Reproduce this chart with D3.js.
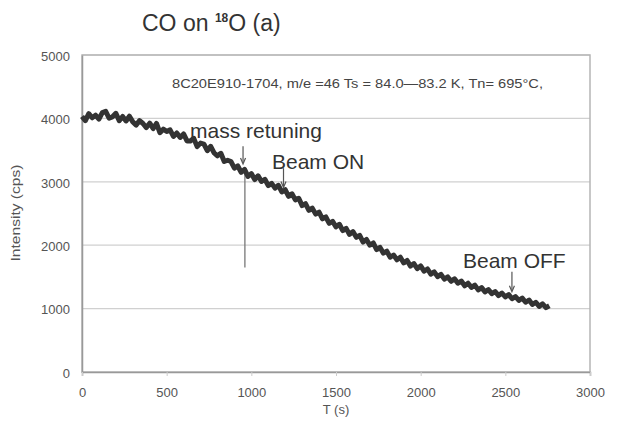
<!DOCTYPE html>
<html><head><meta charset="utf-8">
<script src="https://cdn.jsdelivr.net/npm/d3@7/dist/d3.min.js"></script>
<style>html,body{margin:0;padding:0;background:#fff;}svg{display:block;font-family:"Liberation Sans",Arial,sans-serif;}</style>
</head><body><svg id="c" width="617" height="424"></svg>
<script>
// ---- data ----
const times = d3.range(0, 2761, 20); // sampling times (s)
const intensity = [
4030,3965,4075,4010,4050,3990,4090,4110,4005,4025,
4080,3965,4030,3960,4035,3945,3895,3965,3920,3855,
3925,3840,3920,3775,3830,3795,3820,3715,3770,3700,
3755,3645,3645,3685,3555,3610,3595,3490,3560,3455,
3410,3450,3320,3340,3320,3215,3250,3150,3195,3085,
3130,3035,3095,3005,3040,2940,2975,2900,2945,2840,
2875,2770,2810,2715,2740,2625,2655,2550,2585,2490,
2520,2415,2445,2345,2375,2290,2330,2230,2265,2170,
2215,2125,2155,2050,2090,2000,2035,1930,1965,1875,
1905,1810,1845,1770,1810,1720,1760,1670,1710,1630,
1675,1590,1625,1545,1580,1505,1540,1465,1500,1430,
1470,1400,1435,1360,1400,1335,1370,1295,1330,1265,
1300,1235,1270,1205,1245,1185,1220,1155,1190,1130,
1165,1100,1135,1065,1100,1035,1075,1015,1045
];
const spikeT = 962, spikeTop = 3150, spikeBottom = 1650;
const xTicks = [0,500,1000,1500,2000,2500,3000];
const yTicks = [0,1000,2000,3000,4000,5000];
const annLabels = ["mass retuning","Beam ON","Beam OFF"];
const annArrowT = [951,1190,2539];
const annArrowTop = [3560,3215,1580];
const annArrowBottom = [3280,2910,1265];
const annTextT = [638,1122,2250];
const annTextV = [3690,3200,1640];
const title = "CO on ";
const infoText = "8C20E910-1704, m/e =46 Ts = 84.0\u201483.2 K, Tn= 695\u00b0C,";

// ---- layout ----
const svg = d3.select("#c");
const L = 82, R = 590, T = 55, B = 372;
const x = d3.scaleLinear().domain([0,3000]).range([L,R]);
const y = d3.scaleLinear().domain([0,5000]).range([B,T]);

svg.append("rect").attr("width",617).attr("height",424).attr("fill","#fff");

// gridlines
svg.append("g").selectAll("line").data(yTicks.filter(d=>d>0)).join("line")
  .attr("x1",L).attr("x2",R).attr("y1",d=>y(d)).attr("y2",d=>y(d))
  .attr("stroke","#d0d0d0").attr("stroke-width",1.2);

// frame
svg.append("rect").attr("x",L).attr("y",T).attr("width",R-L).attr("height",B-T)
  .attr("fill","none").attr("stroke","#b5b5b5").attr("stroke-width",1.5);

// axes
const fmt = d3.format("d");
const ya = svg.append("g").attr("transform",`translate(${L},0)`)
  .call(d3.axisLeft(y).tickValues(yTicks).tickFormat(fmt).tickSize(0).tickPadding(12));
ya.select(".domain").attr("stroke","#999").attr("stroke-width",1.5);
ya.selectAll("text").attr("font-size",13).attr("fill","#555").attr("font-family","Liberation Sans, Arial").attr("dy","0.4em");
const xa = svg.append("g").attr("transform",`translate(0,${B})`)
  .call(d3.axisBottom(x).tickValues(xTicks).tickFormat(fmt).tickSize(4).tickPadding(12));
xa.select(".domain").attr("stroke","#999").attr("stroke-width",1.5);
xa.selectAll("line").attr("stroke","#ccc");
xa.selectAll("text").attr("font-size",13).attr("fill","#555").attr("font-family","Liberation Sans, Arial");

// axis titles
svg.append("text").attr("x",(L+R)/2).attr("y",414).attr("text-anchor","middle")
  .attr("font-size",13).attr("fill","#555").text("T (s)");
svg.append("text").attr("transform","translate(20,213) rotate(-90)").attr("text-anchor","middle")
  .attr("font-size",12).attr("fill","#555").attr("textLength",97).attr("lengthAdjust","spacingAndGlyphs")
  .text("Intensity (cps)");

// title
const tt = svg.append("text").attr("x",142).attr("y",31).attr("font-size",23).attr("fill","#333");
tt.append("tspan").text(title);
tt.append("tspan").attr("font-size",12).attr("dy",-9).attr("font-weight","bold").text("18");
tt.append("tspan").attr("dy",9).text("O (a)");

// info text
svg.append("text").attr("x",172).attr("y",88).attr("font-size",12).attr("fill","#444")
  .attr("textLength",371).attr("lengthAdjust","spacingAndGlyphs").text(infoText);

// spike
svg.append("line").attr("x1",x(spikeT)).attr("x2",x(spikeT)).attr("y1",y(spikeTop)).attr("y2",y(spikeBottom))
  .attr("stroke","#777").attr("stroke-width",1.3);

// data line
const pts = times.map((t,i)=>[t,intensity[i]]);
const line = d3.line().x(d=>x(d[0])).y(d=>y(d[1]));
svg.append("path").datum(pts).attr("d",line).attr("fill","none")
  .attr("stroke","#333").attr("stroke-width",5).attr("stroke-linejoin","round");

// annotations
annLabels.forEach((lab,i)=>{
  svg.append("text").attr("x",x(annTextT[i])).attr("y",y(annTextV[i])).attr("font-size",21).attr("fill","#333").text(lab);
  const ax = x(annArrowT[i]), y1 = y(annArrowTop[i]), y2 = y(annArrowBottom[i]);
  svg.append("line").attr("x1",ax).attr("x2",ax).attr("y1",y1).attr("y2",y2-1).attr("stroke","#555").attr("stroke-width",1.2);
  svg.append("path").attr("d",`M${ax-2.5},${y2-6} L${ax},${y2} L${ax+2.5},${y2-6}`).attr("fill","none").attr("stroke","#555").attr("stroke-width",1.2);
});
</script></body></html>
